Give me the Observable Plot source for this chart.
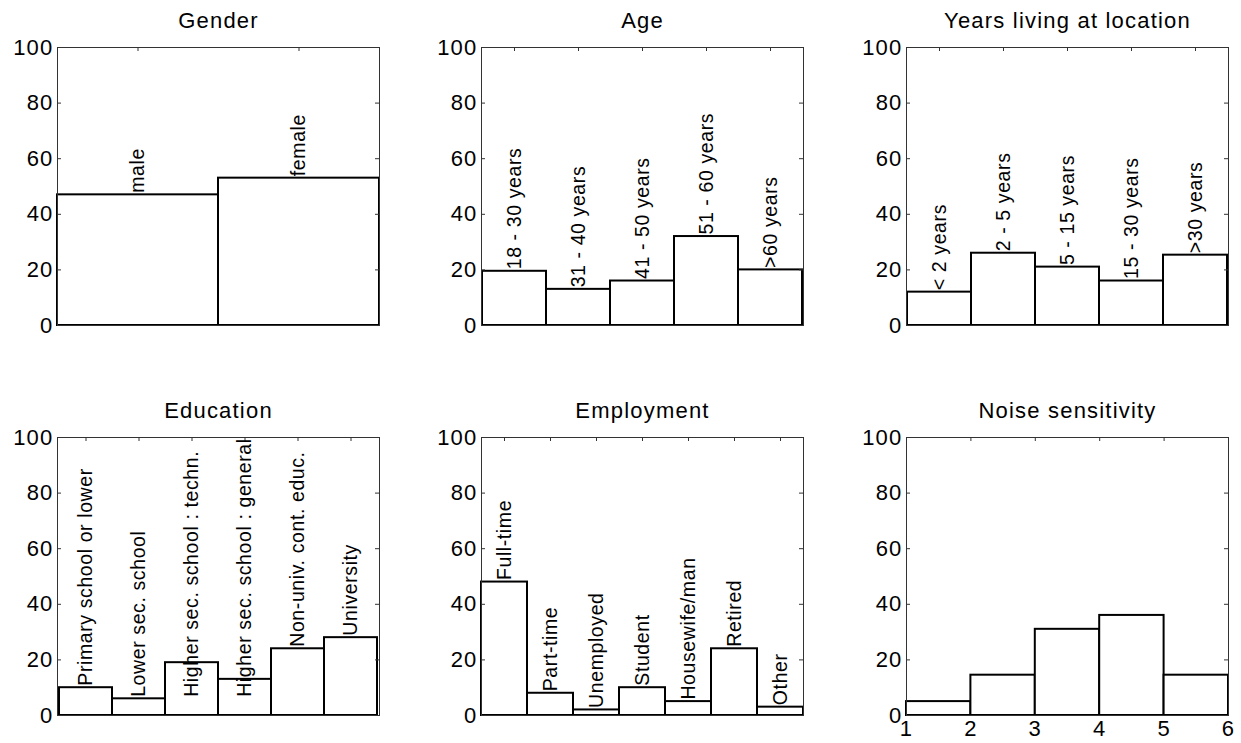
<!DOCTYPE html>
<html><head><meta charset="utf-8">
<script src="https://cdn.jsdelivr.net/npm/d3@7"></script>
<script src="https://cdn.jsdelivr.net/npm/@observablehq/plot@0.6"></script>
<style>
html,body{margin:0;padding:0;background:#fff;}
body{overflow:hidden;width:1241px;height:743px;position:relative}
.panel{position:absolute}
.panel svg{overflow:visible}
g[font-size="22"] text{letter-spacing:1.2px}
g[font-size="19.5"] text{letter-spacing:0.6px}
</style></head><body>
<script>
const yTicks = [0, 20, 40, 60, 80, 100];

const genderCats = ["male", "female"];
const genderVals = [47, 53];
const genderLabelAt = [47, 53];

const ageCats = ["18 - 30 years", "31 - 40 years", "41 - 50 years", "51 - 60 years", ">60 years"];
const ageVals = [19.5, 13, 16, 32, 20];
const ageLabelAt = [19.5, 13, 16, 32, 20];

const yearsCats = ["< 2 years", "2 - 5 years", "5 - 15 years", "15 - 30 years", ">30 years"];
const yearsVals = [12, 26, 21, 16, 25.3];
const yearsLabelAt = [12, 26, 21, 16, 25.3];

const eduCats = ["Primary school or lower", "Lower sec. school", "Higher sec. school : techn.", "Higher sec. school : general", "Non-univ. cont. educ.", "University"];
const eduVals = [10, 6, 19, 13, 24, 28];
const eduLabelAt = [10, 6, 6, 6, 24, 28];

const empCats = ["Full-time", "Part-time", "Unemployed", "Student", "Housewife/man", "Retired", "Other"];
const empVals = [48, 8, 2, 10, 5, 24, 3];
const empLabelAt = [48, 8, 2, 10, 5, 24, 3];

const noiseFrom = [1, 2, 3, 4, 5];
const noiseTo = [2, 3, 4, 5, 6];
const noiseVals = [5, 14.5, 31, 36, 14.5];
const noiseTicks = [1, 2, 3, 4, 5, 6];

const W = 322, H = 278, ML = 57, MT = 47, MR = 12;
const FONT = "'Liberation Sans', Arial, Helvetica, sans-serif";

function commonMarks(title) {
  return [
    Plot.frame({stroke: "#333", strokeWidth: 1}),
    Plot.tickY(yTicks, {y: d => d, insetRight: W - 4, stroke: "#333"}),
    Plot.tickY(yTicks, {y: d => d, insetLeft: W - 4, stroke: "#333"}),
    Plot.axisY(yTicks, {anchor: "left", tickSize: 0, tickPadding: 4, fontSize: 22, label: null}),
    Plot.text([title], {frameAnchor: "top", lineAnchor: "middle", dy: -27, fontSize: 22})
  ];
}

function mount(el, left, top) {
  const div = document.createElement("div");
  div.className = "panel";
  div.style.left = left + "px";
  div.style.top = top + "px";
  div.appendChild(el);
  document.body.appendChild(div);
}

function catPanel(title, cats, vals, labelAt, left, top, mb) {
  const data = cats.map((c, i) => ({c, v: vals[i], l: labelAt[i]}));
  const p = Plot.plot({
    width: ML + W + MR, height: MT + H + mb,
    marginLeft: ML, marginRight: MR, marginTop: MT, marginBottom: mb,
    style: {fontFamily: FONT, fontSize: "22px", background: "transparent", color: "black", overflow: "visible"},
    x: {type: "band", domain: cats, padding: 0, axis: null},
    y: {domain: [0, 100]},
    marks: [
      Plot.barY(data, {x: "c", y: "v", fill: "white", stroke: "black", strokeWidth: 2}),
      ...commonMarks(title),
      Plot.tickX(cats, {x: d => d, insetBottom: H - 4, stroke: "#333"}),
      Plot.text(data, {x: "c", y: "l", text: "c", rotate: -90, textAnchor: "start", dy: -2, fontSize: 19.5, fill: "black"})
    ]
  });
  mount(p, left, top);
}

function noisePanel(title, left, top, mb) {
  const data = noiseFrom.map((a, i) => ({a, b: noiseTo[i], v: noiseVals[i]}));
  const p = Plot.plot({
    width: ML + W + MR, height: MT + H + mb,
    marginLeft: ML, marginRight: MR, marginTop: MT, marginBottom: mb,
    style: {fontFamily: FONT, fontSize: "22px", background: "transparent", color: "black", overflow: "visible"},
    x: {domain: [1, 6]},
    y: {domain: [0, 100]},
    marks: [
      Plot.rectY(data, {x1: "a", x2: "b", y: "v", fill: "white", stroke: "black", strokeWidth: 2}),
      ...commonMarks(title),
      Plot.tickX(noiseTicks, {x: d => d, insetBottom: H - 4, stroke: "#333"}),
      Plot.axisX(noiseTicks, {anchor: "bottom", tickSize: 0, tickPadding: 5, fontSize: 22, label: null})
    ]
  });
  mount(p, left, top);
}

catPanel("Gender", genderCats, genderVals, genderLabelAt, 0, 0, 20);
catPanel("Age", ageCats, ageVals, ageLabelAt, 424, 0, 20);
catPanel("Years living at location", yearsCats, yearsVals, yearsLabelAt, 849, 0, 20);
catPanel("Education", eduCats, eduVals, eduLabelAt, 0, 390, 28);
catPanel("Employment", empCats, empVals, empLabelAt, 424, 390, 28);
noisePanel("Noise sensitivity", 849, 390, 28);
</script>
</body></html>
